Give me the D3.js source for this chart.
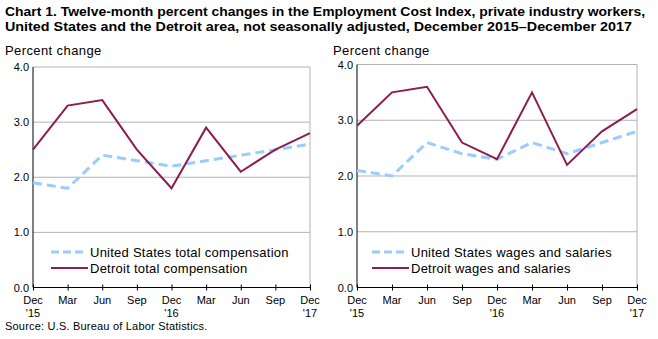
<!DOCTYPE html>
<html>
<head>
<meta charset="utf-8">
<script src="https://cdn.jsdelivr.net/npm/d3@7"></script>
<style>
  body { margin: 0; background: #fff; }
  svg { font-family: "Liberation Sans", Arial, sans-serif; }
</style>
</head>
<body>
<div id="chart"></div>
<script>
// ============================================================
// Data
// ============================================================
const months = ['Dec', 'Mar', 'Jun', 'Sep', 'Dec', 'Mar', 'Jun', 'Sep', 'Dec'];
const years = ["'15", '', '', '', "'16", '', '', '', "'17"];
const yTicks = [0, 1, 2, 3, 4];

const usTotalComp = [1.9, 1.8, 2.4, 2.3, 2.2, 2.3, 2.4, 2.5, 2.6];
const detroitTotalComp = [2.5, 3.3, 3.4, 2.5, 1.8, 2.9, 2.1, 2.5, 2.8];
const usWages = [2.1, 2.0, 2.6, 2.4, 2.3, 2.6, 2.4, 2.6, 2.8];
const detroitWages = [2.9, 3.5, 3.6, 2.6, 2.3, 3.5, 2.2, 2.8, 3.2];

const COLORS = {
    us: '#99ccff',
    detroit: '#8c1d4e',
    grid: '#b3b3b3',
    axis: '#000'
};

const W = 658, H = 339;
const svg = d3.select('#chart').append('svg')
    .attr('width', W)
    .attr('height', H);

// ============================================================
// Titles
// ============================================================
svg.append('text')
    .attr('x', 5).attr('y', 16)
    .attr('font-size', 13).attr('font-weight', 'bold')
    .attr('textLength', 640).attr('lengthAdjust', 'spacingAndGlyphs')
    .text('Chart 1. Twelve-month percent changes in the Employment Cost  Index, private industry workers,');
svg.append('text')
    .attr('x', 5).attr('y', 31)
    .attr('font-size', 13).attr('font-weight', 'bold')
    .attr('textLength', 627).attr('lengthAdjust', 'spacingAndGlyphs')
    .text('United States and the Detroit area, not seasonally adjusted, December 2015\u2013December 2017');

svg.append('text')
    .attr('x', 5).attr('y', 330)
    .attr('font-size', 11).attr('letter-spacing', 0.2)
    .text('Source: U.S. Bureau of Labor Statistics.');

// ============================================================
// Panel
// ============================================================
function drawPanel(opts) {
    const g = svg.append('g');
    const x = d3.scalePoint().domain(d3.range(months.length)).range([opts.x0, opts.x1]);
    const y = d3.scaleLinear().domain([0, 4]).range([opts.y0, opts.y4]);

    g.append('text')
        .attr('x', opts.labelX).attr('y', 55)
        .attr('font-size', 13).attr('letter-spacing', 0.4)
        .text('Percent change');

    // gridlines
    g.append('g')
        .selectAll('line')
        .data(yTicks.filter(d => d > 0))
        .join('line')
        .attr('x1', opts.x0).attr('x2', opts.x1)
        .attr('y1', d => y(d)).attr('y2', d => y(d))
        .attr('stroke', COLORS.grid)
        .attr('stroke-width', 1);

    // right border
    g.append('line')
        .attr('x1', opts.x1).attr('x2', opts.x1)
        .attr('y1', y(4)).attr('y2', y(0))
        .attr('stroke', COLORS.grid);

    // y axis
    g.append('line')
        .attr('x1', opts.x0).attr('x2', opts.x0)
        .attr('y1', y(4)).attr('y2', y(0))
        .attr('stroke', COLORS.axis);
    g.append('g')
        .selectAll('text')
        .data(yTicks)
        .join('text')
        .attr('x', opts.x0 - 4)
        .attr('y', d => y(d) + 4)
        .attr('text-anchor', 'end')
        .attr('font-size', 11)
        .text(d => d3.format('.1f')(d));

    // x axis
    const xAxis = g.append('g')
        .attr('transform', `translate(0, ${y(0)})`)
        .call(d3.axisBottom(x).tickSize(4).tickFormat(''));
    xAxis.select('.domain').attr('stroke', COLORS.axis).attr('d', `M${opts.x0},0H${opts.x1}`);
    xAxis.selectAll('.tick line').attr('stroke', COLORS.axis).attr('y1', -3).attr('y2', 3);

    const lbl = g.append('g').selectAll('g')
        .data(months.map((m, i) => ({ m, yr: years[i], i })))
        .join('g')
        .attr('transform', d => `translate(${x(d.i)}, ${y(0)})`);
    lbl.append('text')
        .attr('y', 16).attr('text-anchor', 'middle').attr('font-size', 11)
        .text(d => d.m);
    lbl.append('text')
        .attr('y', 29).attr('text-anchor', 'middle').attr('font-size', 11)
        .text(d => d.yr);

    const line = d3.line()
        .x((d, i) => x(i))
        .y(d => y(d));

    g.append('path')
        .datum(opts.us)
        .attr('d', line)
        .attr('fill', 'none')
        .attr('stroke', COLORS.us)
        .attr('stroke-width', 3)
        .attr('stroke-dasharray', '9,5');

    g.append('path')
        .datum(opts.detroit)
        .attr('d', line)
        .attr('fill', 'none')
        .attr('stroke', COLORS.detroit)
        .attr('stroke-width', 2);

    // legend
    const lg = g.append('g').attr('transform', `translate(${opts.legendX}, 0)`);
    lg.append('line')
        .attr('x1', 0).attr('x2', 33).attr('y1', 252).attr('y2', 252)
        .attr('stroke', COLORS.us).attr('stroke-width', 3)
        .attr('stroke-dasharray', '8,4');
    lg.append('text')
        .attr('x', 39).attr('y', 257).attr('font-size', 13).attr('letter-spacing', 0.25)
        .text(opts.usLabel);
    lg.append('line')
        .attr('x1', 0).attr('x2', 37).attr('y1', 268).attr('y2', 268)
        .attr('stroke', COLORS.detroit).attr('stroke-width', 2);
    lg.append('text')
        .attr('x', 39).attr('y', 273).attr('font-size', 13).attr('letter-spacing', 0.25)
        .text(opts.detroitLabel);
}

drawPanel({
    x0: 33, x1: 310, y0: 287.5, y4: 67,
    labelX: 5, legendX: 51,
    us: usTotalComp, detroit: detroitTotalComp,
    usLabel: 'United States total compensation',
    detroitLabel: 'Detroit total compensation'
});

drawPanel({
    x0: 357, x1: 637, y0: 287.5, y4: 64.5,
    labelX: 333, legendX: 372,
    us: usWages, detroit: detroitWages,
    usLabel: 'United States wages and salaries',
    detroitLabel: 'Detroit wages and salaries'
});
</script>
</body>
</html>
